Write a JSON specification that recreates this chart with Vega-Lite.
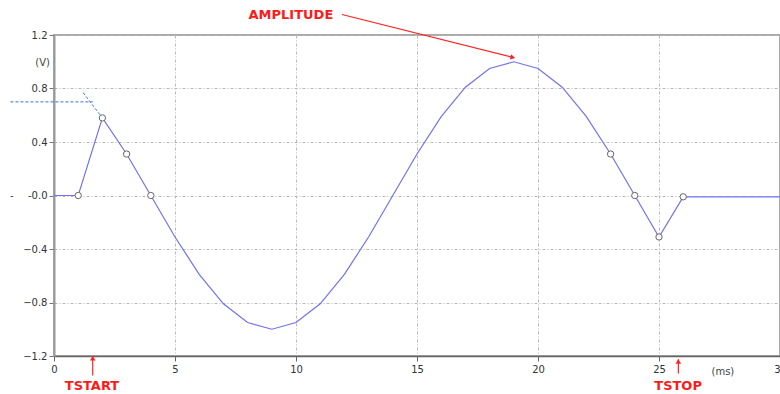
{
  "$schema": "https://vega.github.io/schema/vega-lite/v6.json",
  "width": 726,
  "height": 321,
  "autosize": {"type": "none"},
  "padding": {"left": 54, "top": 35, "right": 0, "bottom": 38},
  "background": "white",
  "config": {
    "view": {"stroke": "#a8a8a8", "strokeWidth": 2},
    "axis": {
      "labelFont": "DejaVu Sans",
      "labelFontSize": 10,
      "labelColor": "#333333",
      "tickSize": 5,
      "gridColor": "#b8b8b8",
      "gridDash": [3, 2, 1, 2],
      "gridWidth": 1,
      "title": null
    }
  },
  "datasets": {
    "wave": [
      {"x": 0, "y": 0}, {"x": 1, "y": 0}, {"x": 2, "y": 0.58}, {"x": 3, "y": 0.31},
      {"x": 4, "y": 0}, {"x": 5, "y": -0.31}, {"x": 6, "y": -0.59}, {"x": 7, "y": -0.81},
      {"x": 8, "y": -0.95}, {"x": 9, "y": -1.0}, {"x": 10, "y": -0.95}, {"x": 11, "y": -0.81},
      {"x": 12, "y": -0.59}, {"x": 13, "y": -0.31}, {"x": 14, "y": 0}, {"x": 15, "y": 0.31},
      {"x": 16, "y": 0.59}, {"x": 17, "y": 0.81}, {"x": 18, "y": 0.95}, {"x": 19, "y": 1.0},
      {"x": 20, "y": 0.95}, {"x": 21, "y": 0.81}, {"x": 22, "y": 0.59}, {"x": 23, "y": 0.31},
      {"x": 24, "y": 0}, {"x": 25, "y": -0.31}, {"x": 26, "y": -0.01}, {"x": 30, "y": -0.01}
    ],
    "markers": [
      {"x": 1, "y": 0}, {"x": 2, "y": 0.58}, {"x": 3, "y": 0.31}, {"x": 4, "y": 0},
      {"x": 23, "y": 0.31}, {"x": 24, "y": 0}, {"x": 25, "y": -0.31}, {"x": 26, "y": -0.01}
    ],
    "dashed": [
      {"x": -1.8, "y": 0.7, "seg": "h"}, {"x": 1.6, "y": 0.7, "seg": "h"},
      {"x": 1.2, "y": 0.77, "seg": "d"}, {"x": 2.0, "y": 0.58, "seg": "d"}
    ],
    "arrows": [
      {"x": 11.9, "y": 1.353, "x2": 18.98, "y2": 1.032},
      {"x": 1.6, "y": -1.346, "x2": 1.6, "y2": -1.2},
      {"x": 25.8, "y": -1.33, "x2": 25.8, "y2": -1.225}
    ],
    "heads": [
      {"x": 18.96, "y": 1.032, "shape": "triangle-right", "angle": 14},
      {"x": 1.6, "y": -1.215, "shape": "triangle-up", "angle": 0},
      {"x": 25.8, "y": -1.24, "shape": "triangle-up", "angle": 0}
    ],
    "redtext": [
      {"x": 9.79, "y": 1.346, "label": "AMPLITUDE"},
      {"x": 1.57, "y": -1.428, "label": "TSTART"},
      {"x": 25.79, "y": -1.428, "label": "TSTOP"}
    ],
    "graytext": [
      {"x": 27.64, "y": -1.316, "label": "(ms)"},
      {"x": -0.47, "y": 0.987, "label": "(V)"},
      {"x": -1.74, "y": 0.0, "label": "-"}
    ]
  },
  "encoding": {
    "x": {
      "field": "x", "type": "quantitative",
      "scale": {"domain": [0, 30], "nice": false, "zero": false},
      "axis": {
        "values": [0, 5, 10, 15, 20, 25, 30],
        "format": "d",
        "labelFlush": false,
        "labelOverlap": false,
        "domainColor": "#666666",
        "domainWidth": 1.5,
        "tickColor": "#666666",
        "labelPadding": 3
      }
    },
    "y": {
      "field": "y", "type": "quantitative",
      "scale": {"domain": [-1.2, 1.2], "nice": false, "zero": false},
      "axis": {
        "values": [-1.2, -0.8, -0.4, 0, 0.4, 0.8, 1.2],
        "labelExpr": "abs(datum.value) < 0.01 ? '-0.0' : format(datum.value, '.1f')",
        "labelFlush": false,
        "domainColor": "#9a9a9a",
        "domainWidth": 2,
        "tickColor": "#777777",
        "labelPadding": 2
      }
    }
  },
  "layer": [
    {
      "data": {"name": "dashed"},
      "mark": {"type": "line", "color": "#3a70d0", "strokeWidth": 1, "strokeDash": [3, 2]},
      "encoding": {"detail": {"field": "seg", "type": "nominal"}}
    },
    {
      "data": {"name": "wave"},
      "mark": {"type": "line", "color": "#7272f0", "strokeWidth": 1.2}
    },
    {
      "data": {"name": "markers"},
      "mark": {"type": "point", "shape": "circle", "filled": true, "fill": "white", "stroke": "#666666", "strokeWidth": 1, "size": 40, "opacity": 1}
    },
    {
      "data": {"name": "arrows"},
      "mark": {"type": "rule", "color": "#ff2020", "strokeWidth": 1.2},
      "encoding": {"x2": {"field": "x2"}, "y2": {"field": "y2"}}
    },
    {
      "data": {"name": "heads"},
      "mark": {"type": "point", "filled": true, "color": "#ff2020", "size": 30, "opacity": 1},
      "encoding": {
        "shape": {"field": "shape", "type": "nominal", "scale": null},
        "angle": {"field": "angle", "type": "quantitative", "scale": null}
      }
    },
    {
      "data": {"name": "redtext"},
      "mark": {"type": "text", "font": "DejaVu Sans", "fontSize": 13, "fontWeight": "bold", "color": "#ff1a1a", "baseline": "middle", "align": "center"},
      "encoding": {"text": {"field": "label"}}
    },
    {
      "data": {"name": "graytext"},
      "mark": {"type": "text", "font": "DejaVu Sans", "fontSize": 10, "color": "#444444", "baseline": "middle", "align": "center"},
      "encoding": {"text": {"field": "label"}}
    }
  ]
}
